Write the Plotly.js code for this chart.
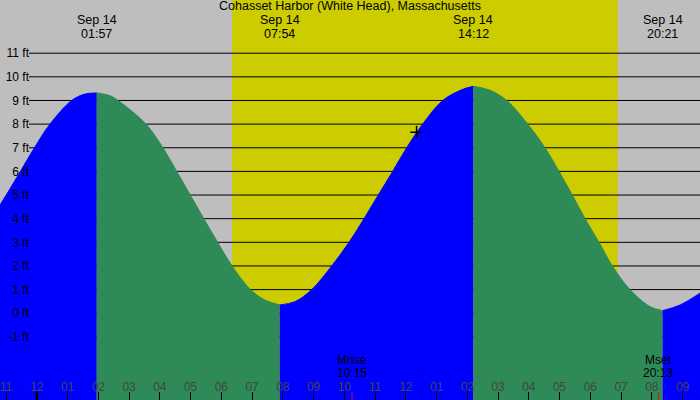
<!DOCTYPE html>
<html>
<head>
<meta charset="utf-8">
<script src="https://cdn.plot.ly/plotly-3.0.1.min.js"></script>
<style>
  html, body { margin: 0; padding: 0; background: #bebebe; }
  #chart { width: 700px; height: 400px; }
</style>
</head>
<body>
<div id="chart"></div>
<script>
// tide height (ft), hours from midnight Sep 14
const tideHours = [-1.197, -0.995, -0.534, -0.077, 0.429, 1.135, 1.567, 1.95,
    2.38, 2.641, 3.55, 4.1, 4.55, 4.99, 5.43, 5.88, 6.35, 6.95, 7.42, 7.9,
    8.40, 8.94, 9.59, 10.153, 10.641, 11.106, 11.574, 12.029, 12.549, 13.2, 13.83, 14.2,
    14.74, 15.281, 15.964, 16.527, 16.982, 17.415, 17.828, 18.283, 18.716, 19.291, 19.94, 20.35,
    20.92, 21.567];
const tideFeet = [4.58, 5, 6, 7, 8, 9, 9.27, 9.32,
    9.2, 9, 8, 7, 6, 5, 4, 3, 2, 1, 0.56, 0.35,
    0.49, 1, 2, 3, 4, 5, 6, 7, 8, 9, 9.46, 9.6,
    9.43, 9, 8, 7, 6, 5, 4, 3, 2, 1, 0.28, 0.11,
    0.35, 0.85];

// high / low turning points
const turnHours = [1.95, 7.9, 14.2, 20.35];
const turnLabels = ['01:57', '07:54', '14:12', '20:21'];
const turnDate = 'Sep 14';

const sunHours = [6.35, 18.89];          // sunrise, sunset
const moonHours = [10.25, 20.2167];
const moonNames = ['Mrise', 'Mset'];
const moonLabels = ['10:15', '20:13'];

const nowHour = [12.35];
const nowFeet = [7.66];

const hourTicks = [-1, 0, 1, 2, 3, 4, 5, 6, 7, 8, 9, 10, 11, 12, 13, 14, 15, 16, 17, 18, 19, 20, 21];
const hourLabels = ['11', '12', '01', '02', '03', '04', '05', '06', '07', '08', '09', '10',
    '11', '12', '01', '02', '03', '04', '05', '06', '07', '08', '09'];
const feetTicks = [-1, 0, 1, 2, 3, 4, 5, 6, 7, 8, 9, 10, 11];
const feetLabels = ['-1 ft', '0 ft', '1 ft', '2 ft', '3 ft', '4 ft', '5 ft', '6 ft', '7 ft', '8 ft', '9 ft', '10 ft', '11 ft'];

const X_RANGE = [-1.197, 21.567];
const Y_RANGE = [-3.67, 13.25];
const RISE = '#0000ff', FALL = '#2e8b57';
const FONT = 'Liberation Sans, Arial, sans-serif';

// split the curve at each turning point: rising blue, falling green
const cuts = [0, ...turnHours.map(t => tideHours.indexOf(t)), tideHours.length - 1];
const traces = [];
for (let i = 0; i < cuts.length - 1; i++) {
    const xs = tideHours.slice(cuts[i], cuts[i + 1] + 1);
    const ys = tideFeet.slice(cuts[i], cuts[i + 1] + 1);
    const color = i % 2 === 0 ? RISE : FALL;
    traces.push({ x: [xs[0], xs[xs.length - 1]], y: [Y_RANGE[0] - 1, Y_RANGE[0] - 1], mode: 'lines',
        line: { width: 0 }, hoverinfo: 'skip', showlegend: false });
    traces.push({ x: xs, y: ys, mode: 'lines', fill: 'tonexty', fillcolor: color,
        line: { shape: 'spline', smoothing: 1, width: 1, color: color }, hoverinfo: 'skip', showlegend: false });
}
traces.push({ x: nowHour, y: nowFeet, mode: 'markers', showlegend: false,
    marker: { symbol: 'cross-thin', size: 9, line: { width: 1.5, color: '#000' } } });

const shapes = [
    { type: 'rect', xref: 'x', yref: 'paper', x0: sunHours[0], x1: sunHours[1], y0: 0, y1: 1,
      fillcolor: '#cccc00', line: { width: 0 }, layer: 'below' },
    ...feetTicks.map(v => ({ type: 'line', xref: 'paper', yref: 'y', x0: 29 / 700, x1: 1, y0: v, y1: v,
      line: { color: '#000', width: 1 }, layer: 'below' })),
    { type: 'line', xref: 'x', yref: 'paper', x0: 0, x1: 0, y0: 0, y1: 8 / 400,
      line: { color: '#000', width: 2.5 }, layer: 'above' },
    ...moonHours.map(h => ({ type: 'line', xref: 'x', yref: 'paper', x0: h, x1: h, y0: 0, y1: 7 / 400,
      line: { color: '#ff0000', width: 1 }, layer: 'above' }))
];

const annotations = [];
turnHours.forEach((h, i) => {
    annotations.push({ x: h, y: 1 - 20 / 400, xref: 'x', yref: 'paper', text: turnDate, showarrow: false,
        yanchor: 'middle', borderpad: 0, font: { size: 12.5 } });
    annotations.push({ x: h, y: 1 - 33.5 / 400, xref: 'x', yref: 'paper', text: turnLabels[i], showarrow: false,
        yanchor: 'middle', borderpad: 0, font: { size: 12.5 } });
});
moonHours.forEach((h, i) => {
    annotations.push({ x: h, y: 1 - 359.5 / 400, xref: 'x', yref: 'paper', text: moonNames[i], showarrow: false,
        yanchor: 'middle', borderpad: 0, font: { size: 12 } });
    annotations.push({ x: h, y: 1 - 373 / 400, xref: 'x', yref: 'paper', text: moonLabels[i], showarrow: false,
        yanchor: 'middle', borderpad: 0, font: { size: 12 } });
});

const layout = {
    width: 700, height: 400,
    paper_bgcolor: '#bebebe', plot_bgcolor: '#bebebe',
    font: { family: FONT, color: '#000', size: 12 },
    margin: { t: 0, b: 0, l: 0, r: 0 },
    showlegend: false, dragmode: false,
    title: { text: 'Cohasset Harbor (White Head), Massachusetts', x: 0.5, xanchor: 'center',
        y: 1 - 6 / 400, yanchor: 'middle', yref: 'container', font: { size: 12.5 } },
    xaxis: {
        range: X_RANGE, fixedrange: true, showgrid: false, zeroline: false, showline: false,
        tickvals: hourTicks, ticktext: hourLabels, ticks: 'inside', ticklen: 8, tickcolor: '#000',
        ticklabelposition: 'inside', ticklabeloverflow: 'allow', ticklabelstandoff: -2,
        tickfont: { size: 12 }, automargin: false
    },
    yaxis: {
        range: Y_RANGE, fixedrange: true, showgrid: false, zeroline: false, showline: false,
        anchor: 'free', position: 29 / 700, side: 'left',
        tickvals: feetTicks, ticktext: feetLabels, ticks: '', tickfont: { size: 12 }, automargin: false
    },
    shapes: shapes,
    annotations: annotations
};

Plotly.newPlot('chart', traces, layout, { displayModeBar: false, staticPlot: true });
</script>
</body>
</html>
